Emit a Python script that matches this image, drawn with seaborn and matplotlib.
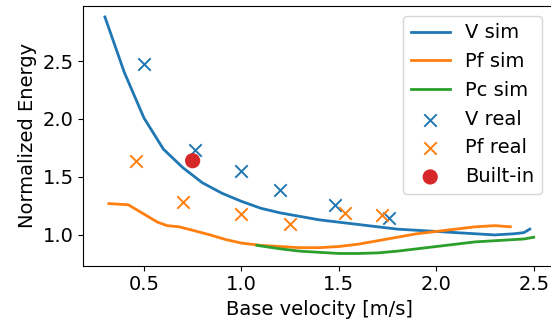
import matplotlib
matplotlib.use("Agg")
import matplotlib.pyplot as plt
import seaborn as sns

# simulated curves
v_sim_x = [0.3, 0.4, 0.5, 0.6, 0.7, 0.8, 0.9, 1.0, 1.1, 1.2, 1.3, 1.4, 1.5, 1.6,
           1.7, 1.8, 1.9, 2.0, 2.1, 2.2, 2.3, 2.4, 2.45, 2.48]
v_sim_y = [2.88, 2.40, 2.01, 1.74, 1.58, 1.45, 1.36, 1.29, 1.23, 1.19, 1.16, 1.13,
           1.11, 1.09, 1.07, 1.05, 1.04, 1.03, 1.02, 1.01, 1.00, 1.01, 1.02, 1.05]

pf_sim_x = [0.32, 0.42, 0.5, 0.57, 0.62, 0.68, 0.75, 0.84, 0.92, 1.0, 1.1, 1.2,
            1.3, 1.4, 1.5, 1.6, 1.7, 1.8, 1.9, 2.0, 2.1, 2.2, 2.3, 2.38]
pf_sim_y = [1.27, 1.26, 1.18, 1.11, 1.08, 1.07, 1.04, 1.00, 0.96, 0.93, 0.91, 0.90,
            0.89, 0.89, 0.90, 0.92, 0.95, 0.98, 1.01, 1.03, 1.05, 1.07, 1.08, 1.07]

pc_sim_x = [1.08, 1.2, 1.3, 1.4, 1.5, 1.6, 1.7, 1.8, 1.9, 2.0, 2.1, 2.2, 2.3, 2.4,
            2.45, 2.5]
pc_sim_y = [0.91, 0.88, 0.86, 0.85, 0.84, 0.84, 0.845, 0.86, 0.88, 0.90, 0.92,
            0.94, 0.95, 0.96, 0.965, 0.98]

# real measurements
v_real_x = [0.5, 0.76, 1.0, 1.2, 1.48, 1.76]
v_real_y = [2.47, 1.73, 1.55, 1.39, 1.26, 1.15]

pf_real_x = [0.46, 0.7, 1.0, 1.25, 1.53, 1.72]
pf_real_y = [1.64, 1.28, 1.18, 1.09, 1.19, 1.17]

builtin_x = [0.75]
builtin_y = [1.64]

fig = plt.figure(figsize=(5.51, 3.30), dpi=100)
# axes runs slightly past the right edge, like the cropped original
ax = fig.add_axes([0.1515, 0.195, 0.856, 0.787])

sns.lineplot(x=v_sim_x, y=v_sim_y, ax=ax, color="tab:blue", lw=2, label="V sim")
sns.lineplot(x=pf_sim_x, y=pf_sim_y, ax=ax, color="tab:orange", lw=2, label="Pf sim")
sns.lineplot(x=pc_sim_x, y=pc_sim_y, ax=ax, color="tab:green", lw=2, label="Pc sim")
sns.scatterplot(x=v_real_x, y=v_real_y, ax=ax, color="tab:blue", marker="x",
                s=80, linewidth=1.4, label="V real")
sns.scatterplot(x=pf_real_x, y=pf_real_y, ax=ax, color="tab:orange", marker="x",
                s=80, linewidth=1.4, label="Pf real")
sns.scatterplot(x=builtin_x, y=builtin_y, ax=ax, color="tab:red", s=120,
                edgecolor="none", label="Built-in", zorder=5)

ax.set_xlim(0.19, 2.61)
ax.set_ylim(0.735, 2.975)
ax.set_xlabel("Base velocity [m/s]", fontsize=14)
ax.set_ylabel("Normalized Energy", fontsize=14)
ax.tick_params(labelsize=14)
ax.set_xticks([0.5, 1.0, 1.5, 2.0, 2.5])
ax.set_yticks([1.0, 1.5, 2.0, 2.5])
ax.legend(loc="upper right", bbox_to_anchor=(0.993, 1.0), fontsize=14)

plt.savefig("out.png")
